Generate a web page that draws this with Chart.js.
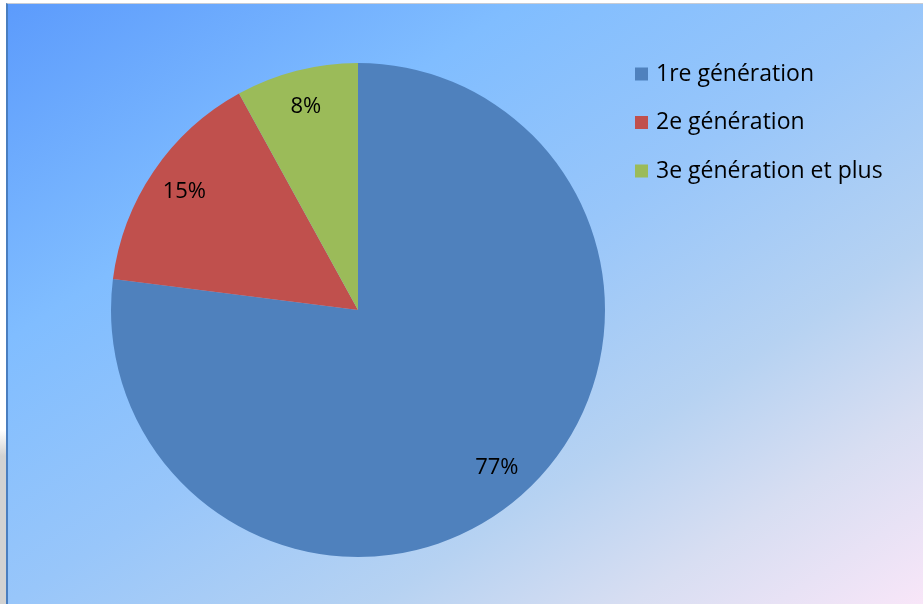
<!DOCTYPE html>
<html>
<head>
<meta charset="utf-8">
<script src="https://cdn.jsdelivr.net/npm/chart.js@4"></script>
<style>
  html, body { margin: 0; padding: 0; background: #fff; }
  body { width: 923px; height: 604px; position: relative; overflow: hidden; }
  #shade { position: absolute; left: 0; top: 430px; width: 6px; height: 174px;
    background: linear-gradient(to bottom, #fff 0%, #d2d2d2 15%, #d2d2d2 100%); }
  #frame { position: absolute; left: 6px; top: 3px; right: 0; bottom: 0;
    border-top: 1px solid #c8ccd4; border-left: 2px solid #4a7ebf;
    background: linear-gradient(to bottom right, #5c9bfc 0%, #80bdff 28%, #98c6fa 50%, #b6d2f2 70%, #d8def2 84%, #f8e6f8 100%); }
  #myChart { position: absolute; left: 0; top: 0; }
</style>
</head>
<body>
<div id="shade"></div>
<div id="frame"></div>
<canvas id="myChart" width="923" height="604"></canvas>
<script>
var labels = ['1re génération', '2e génération', '3e génération et plus'];
var values = [77, 15, 8];
var colors = ['#4f81bd', '#c0504d', '#9bbb59'];

var fontFamily = '"Open Sans", "Noto Sans", sans-serif';

// percent labels inside each slice
var sliceLabels = {
  id: 'sliceLabels',
  afterDatasetsDraw: function(chart) {
    var c = chart.ctx;
    var arcs = chart.getDatasetMeta(0).data;
    c.save();
    c.font = '22px ' + fontFamily;
    c.fillStyle = '#000';
    c.textAlign = 'center';
    c.textBaseline = 'middle';
    arcs.forEach(function(arc, i) {
      var p = arc.getProps(['x', 'y', 'startAngle', 'endAngle', 'outerRadius']);
      var mid = (p.startAngle + p.endAngle) / 2;
      var r = p.outerRadius * 0.85;
      c.fillText(values[i] + '%', p.x + Math.cos(mid) * r, p.y + Math.sin(mid) * r);
    });
    c.restore();
  }
};

// legend at top right, like the original
var sideLegend = {
  id: 'sideLegend',
  afterDraw: function(chart) {
    var c = chart.ctx;
    c.save();
    c.font = '23px ' + fontFamily;
    c.textBaseline = 'middle';
    c.textAlign = 'left';
    for (let i = 0; i < labels.length; i++) {
      var y = 74 + i * 48.5;
      c.fillStyle = colors[i];
      c.fillRect(635, y - 6.5, 13, 13);
      c.fillStyle = '#000';
      c.fillText(labels[i], 656, y);
    }
    c.restore();
  }
};

const ctx = document.getElementById('myChart');

new Chart(ctx, {
  type: 'pie',
  data: {
    labels: labels,
    datasets: [{
      data: values,
      backgroundColor: colors,
      borderWidth: 0
    }]
  },
  options: {
    responsive: false,
    animation: false,
    layout: { padding: { left: 111, right: 318, top: 63, bottom: 47 } },
    plugins: {
      legend: { display: false },
      tooltip: { enabled: false }
    }
  },
  plugins: [sliceLabels, sideLegend]
});
</script>
</body>
</html>
